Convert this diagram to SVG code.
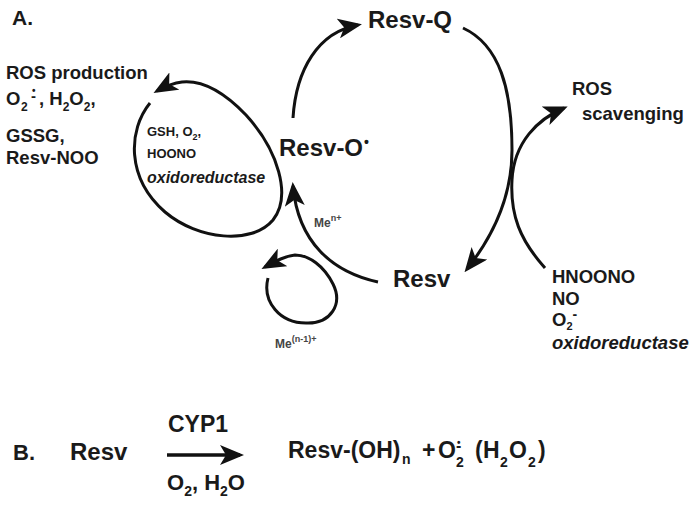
<svg xmlns="http://www.w3.org/2000/svg" width="696" height="505" viewBox="0 0 696 505">
<defs>
<style>
text{font-family:"Liberation Sans",Arial,sans-serif;font-weight:bold;fill:#1a1a1a}
.big{font-size:24px}
.mid{font-size:18.5px}
.sm{font-size:13px}
.me{font-size:12px;fill:#444}
.it{font-style:italic}
.conn{fill:none;stroke:#111;stroke-width:3}
</style>
<marker id="ah" markerUnits="userSpaceOnUse" markerWidth="24" markerHeight="20" viewBox="0 0 24 20" refX="20" refY="10" orient="auto">
<path d="M0,0 L24,10 L0,20 L6,10 z" fill="#111"/>
</marker>
</defs>
<rect width="696" height="505" fill="#fff"/>

<text x="12" y="25" style="font-size:21px">A.</text>

<g id="ros-production">
<text class="mid" x="6" y="79">ROS production</text>
<text class="mid" y="105"><tspan x="6">O</tspan><tspan x="21" y="111" style="font-size:12px">2</tspan><tspan x="31" y="101" style="font-size:15px">-</tspan><tspan x="32" y="94" style="font-size:10px">•</tspan><tspan x="39" y="105">, H</tspan><tspan y="111" style="font-size:12px">2</tspan><tspan y="105">O</tspan><tspan y="111" style="font-size:12px">2</tspan><tspan y="105">,</tspan></text>
<text class="mid" x="6" y="142">GSSG,</text>
<text class="mid" x="6" y="164">Resv-NOO</text>
</g>

<g id="oxidoreductase-cycle">
<path class="conn" d="M150,103 C128,130 126,178 165,212 C198,240 252,245 273,220 C292,196 278,150 246,115 C224,92 202,80 182,82 C172,83 164,87 157,91" marker-end="url(#ah)"/>
<text class="sm" y="136"><tspan x="147">GSH, O</tspan><tspan y="140" style="font-size:9px">2</tspan><tspan y="136">,</tspan></text>
<text class="sm" x="147" y="158">HOONO</text>
<text class="it" x="147" y="183" style="font-size:16px">oxidoreductase</text>
</g>

<g id="resv-o">
<text class="big" x="279" y="156">Resv-O<tspan x="364" y="147" style="font-size:14px">•</tspan></text>
</g>

<g id="resv-q">
<text class="big" x="368" y="28">Resv-Q</text>
</g>

<g id="resv">
<text class="big" x="393" y="287">Resv</text>
</g>

<g id="metal-cycle">
<path class="conn" d="M268,278 C262,302 280,323 306,323 C331,324 343,304 333,284 C324,266 309,255 295,255 C285,256 276,261 265,267" marker-end="url(#ah)"/>
<text class="me" x="314" y="227">Me<tspan y="221" style="font-size:9px">n+</tspan></text>
<text class="me" x="275" y="348">Me<tspan y="342" style="font-size:9px">(n-1)+</tspan></text>
</g>

<g id="ros-scavenging">
<text class="mid" x="572" y="95">ROS</text>
<text class="mid" x="582" y="120">scavenging</text>
</g>

<g id="scavengers">
<text class="mid" x="552" y="283">HNOONO</text>
<text class="mid" x="552" y="305">NO</text>
<text class="mid" y="326"><tspan x="552">O</tspan><tspan y="330" style="font-size:11px">2</tspan><tspan y="319" style="font-size:14px">-</tspan></text>
<text class="mid it" x="552" y="349">oxidoreductase</text>
</g>

<g id="connectors">
<path class="conn" d="M293,118 C296,70 318,32 358,25" marker-end="url(#ah)"/>
<path class="conn" d="M463,28 C500,45 512,90 512,150 C512,200 490,240 467,269" marker-end="url(#ah)"/>
<path class="conn" d="M545,268 C520,240 510,215 512,180 C514,142 538,119 564,108" marker-end="url(#ah)"/>
<path class="conn" d="M378,282 C332,272 298,242 293,186" marker-end="url(#ah)"/>
</g>

<g id="reaction-b">
<text x="13" y="460" style="font-size:22px">B.</text>
<text class="big" x="70" y="460">Resv</text>
<text x="168" y="432" style="font-size:23px">CYP1</text>
<path d="M167,455 H240" style="fill:none;stroke:#111;stroke-width:3.5" marker-end="url(#ah)"/>
<text y="490" style="font-size:22px"><tspan x="167">O</tspan><tspan y="496" style="font-size:14px">2</tspan><tspan y="490">, H</tspan><tspan y="496" style="font-size:14px">2</tspan><tspan y="490">O</tspan></text>
<text y="458" style="font-size:23px"><tspan x="288">Resv-(OH)</tspan><tspan x="402" y="464" style="font-size:14px">n</tspan><tspan x="422" y="458">+</tspan><tspan x="438" y="458">O</tspan><tspan x="456" y="467" style="font-size:14px">2</tspan><tspan x="456" y="451" style="font-size:16px">-</tspan><tspan x="457" y="446" style="font-size:10px">•</tspan><tspan x="475" y="458">(</tspan><tspan x="483">H</tspan><tspan x="500" y="467" style="font-size:14px">2</tspan><tspan x="509" y="458">O</tspan><tspan x="528" y="467" style="font-size:14px">2</tspan><tspan x="538" y="458">)</tspan></text>
</g>
</svg>
